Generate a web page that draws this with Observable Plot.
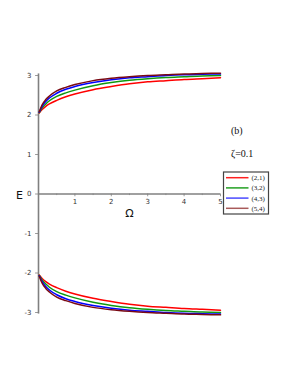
<!DOCTYPE html>
<html>
<head>
<meta charset="utf-8">
<script src="https://cdn.jsdelivr.net/npm/d3@7"></script>
<script src="https://cdn.jsdelivr.net/npm/@observablehq/plot@0.6"></script>
<style>
  html, body { margin: 0; padding: 0; background: #fff; }
  #wrap { position: relative; width: 291px; height: 376px; }
  #overlay { position: absolute; left: 0; top: 0; pointer-events: none; }
</style>
</head>
<body>
<div id="wrap"></div>
<script>
const omega = [0.02, 0.1, 0.2, 0.3, 0.5, 0.75, 1, 1.5, 2, 2.5, 3, 3.5, 4, 4.5, 5];

const seriesLabels = ["(2,1)", "(3,2)", "(4,3)", "(5,4)"];
const seriesColors = ["#ff0000", "#119911", "#0000ff", "#7a0a14"];
const legendColors = ["#ff2020", "#22a022", "#4a4aff", "#a85a5a"];

const upper21 = [2.05, 2.14, 2.22, 2.28, 2.37, 2.46, 2.53, 2.64, 2.72, 2.79, 2.84, 2.87, 2.90, 2.92, 2.94];
const upper32 = [2.06, 2.18, 2.28, 2.36, 2.47, 2.56, 2.63, 2.74, 2.82, 2.88, 2.92, 2.95, 2.97, 2.99, 3.00];
const upper43 = [2.07, 2.22, 2.34, 2.43, 2.55, 2.65, 2.72, 2.82, 2.89, 2.94, 2.97, 3.00, 3.02, 3.03, 3.04];
const upper54 = [2.08, 2.26, 2.39, 2.48, 2.61, 2.70, 2.77, 2.87, 2.93, 2.97, 3.00, 3.02, 3.04, 3.05, 3.06];

const lower21 = [-2.05, -2.14, -2.22, -2.28, -2.37, -2.46, -2.53, -2.64, -2.72, -2.79, -2.84, -2.87, -2.90, -2.92, -2.94];
const lower32 = [-2.06, -2.18, -2.28, -2.36, -2.47, -2.56, -2.63, -2.74, -2.82, -2.88, -2.92, -2.95, -2.97, -2.99, -3.00];
const lower43 = [-2.07, -2.22, -2.34, -2.43, -2.55, -2.65, -2.72, -2.82, -2.89, -2.94, -2.97, -3.00, -3.02, -3.03, -3.04];
const lower54 = [-2.08, -2.26, -2.39, -2.48, -2.61, -2.70, -2.77, -2.87, -2.93, -2.97, -3.00, -3.02, -3.04, -3.05, -3.06];

const xTickLabels = [1, 2, 3, 4, 5];
const xMinorTicks = [0.5, 1.5, 2.5, 3.5, 4.5];
const yTickLabels = [3, 2, 1, 0, -1, -2, -3];

const curves = [
  [upper21, lower21],
  [upper32, lower32],
  [upper43, lower43],
  [upper54, lower54]
];

const rows = [];
curves.forEach((pair, si) => {
  pair.forEach((vals, bi) => {
    vals.forEach((v, i) => rows.push({s: seriesLabels[si], branch: si + "-" + bi, x: omega[i], y: v}));
  });
});

const axisColor = "#808080";
const tickFont = "DejaVu Sans, sans-serif";

const chart = Plot.plot({
  width: 291,
  height: 376,
  marginLeft: 38,
  marginRight: 71,
  marginTop: 75,
  marginBottom: 64,
  x: {type: "linear", domain: [0, 5], axis: null},
  y: {type: "linear", domain: [-3, 3], axis: null},
  color: {domain: seriesLabels, range: seriesColors},
  style: {background: "#fff", overflow: "visible"},
  marks: [
    Plot.ruleY([0], {x1: 0, x2: 5, stroke: axisColor, strokeWidth: 1.4}),
    Plot.ruleX([0], {y1: -3.04, y2: 3.04, stroke: axisColor, strokeWidth: 1.6}),
    Plot.ruleX(xTickLabels, {x: d => d, y1: 0, y2: -0.07, stroke: axisColor, strokeWidth: 0.8}),
    Plot.ruleX(xMinorTicks, {x: d => d, y1: 0, y2: -0.04, stroke: axisColor, strokeWidth: 0.7}),
    Plot.ruleY(yTickLabels, {y: d => d, x1: 0, x2: -0.08, stroke: axisColor, strokeWidth: 0.8}),
    Plot.text(xTickLabels, {x: d => d, y: 0, dy: 8, text: d => String(d), fontSize: 7, fill: "#333", fontFamily: tickFont}),
    Plot.text(yTickLabels, {x: 0, y: d => d, dx: -7, textAnchor: "end", text: d => String(d), fontSize: 7, fill: "#333", fontFamily: tickFont}),
    Plot.text(["E"], {x: 0, y: 0, dx: -19, dy: 1, text: d => d, fontSize: 11, fill: "#111", fontFamily: tickFont}),
    Plot.text(["Ω"], {x: 2.5, y: 0, dy: 19, text: d => d, fontSize: 11, fill: "#111", fontFamily: tickFont}),
    Plot.line(rows, {x: "x", y: "y", z: "branch", stroke: "s", strokeWidth: 1.5, curve: "monotone-x"})
  ]
});

document.getElementById("wrap").appendChild(chart);

// Legend and annotations overlay
const ov = d3.select("#wrap").append("svg")
  .attr("id", "overlay")
  .attr("width", 291).attr("height", 376);

ov.append("text").attr("x", 231).attr("y", 133.5)
  .attr("font-family", "Liberation Serif, Times New Roman, serif")
  .attr("font-size", 10).attr("fill", "#111").text("(b)");
ov.append("text").attr("x", 231).attr("y", 156.5)
  .attr("font-family", "Liberation Serif, Times New Roman, serif")
  .attr("font-size", 10).attr("fill", "#111").text("ζ=0.1");

const lg = ov.append("g");
lg.append("rect").attr("x", 223.5).attr("y", 172).attr("width", 45).attr("height", 42)
  .attr("fill", "#fff").attr("stroke", "#444").attr("stroke-width", 1.2);
seriesLabels.forEach((lab, i) => {
  const yy = 177.7 + i * 10.2;
  lg.append("line").attr("x1", 226).attr("x2", 248.5).attr("y1", yy).attr("y2", yy)
    .attr("stroke", legendColors[i]).attr("stroke-width", 1.5);
  lg.append("text").attr("x", 251.5).attr("y", yy + 2.5)
    .attr("font-family", "Liberation Serif, Times New Roman, serif")
    .attr("font-size", 7).attr("fill", "#222").text(lab);
});
</script>
</body>
</html>
